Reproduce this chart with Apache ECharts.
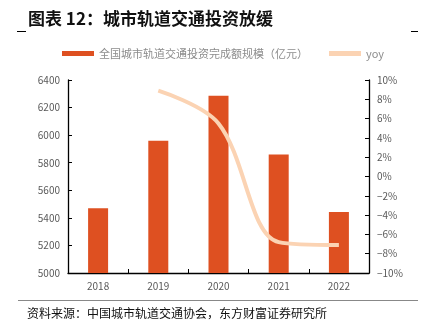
<!DOCTYPE html>
<html><head><meta charset="utf-8">
<script src="https://cdn.jsdelivr.net/npm/echarts@6/dist/echarts.min.js"></script>
<style>html,body{margin:0;padding:0;background:#fff}#c{width:422px;height:334px}</style>
</head><body><div id="c"></div>
<script>
const categories = ['2018','2019','2020','2021','2022'];
const investment = [5470, 5959, 6286, 5859, 5443];
const yoy = [null, 8.9, 5.5, -6.8, -7.1];
const leftTicks = [5000, 6400, 200];
const rightTicks = [-10, 10, 2];
const titleText = '图表 12：城市轨道交通投资放缓';
const sourceText = '资料来源：中国城市轨道交通协会，东方财富证券研究所';
const barName = '全国城市轨道交通投资完成额规模（亿元）';
const lineName = 'yoy';

const chart = echarts.init(document.getElementById('c'), null, {renderer:'canvas'});
const F = '"Noto Sans CJK SC", "Noto Sans", sans-serif';
chart.setOption({
  animation:false,
  textStyle:{fontFamily:F},
  title:{text:titleText,left:23,top:5,textStyle:{fontSize:17,fontWeight:'bold',color:'#111',fontFamily:F}},
  legend:{top:43,left:57,itemGap:21,itemWidth:32,itemHeight:5,
    textStyle:{fontSize:11,color:'#8c8c8c',fontFamily:F},
    data:[{name:barName,icon:'rect'},{name:lineName,icon:'rect',itemStyle:{color:'#FBD3B3'}}]},
  grid:{left:68,right:53,top:80,bottom:61,containLabel:false},
  xAxis:{type:'category',data:categories,
    axisLine:{onZero:false,lineStyle:{color:'#000',width:1.3}},
    axisTick:{show:true,inside:true,length:4,alignWithLabel:false,lineStyle:{color:'#000'}},
    axisLabel:{color:'#595959',fontSize:10,margin:8}},
  yAxis:[
    {type:'value',min:leftTicks[0],max:leftTicks[1],interval:leftTicks[2],
     axisLine:{show:true,lineStyle:{color:'#000',width:1.3}},
     axisTick:{show:true,inside:true,length:4,lineStyle:{color:'#000'}},
     splitLine:{show:false},
     axisLabel:{color:'#595959',fontSize:10,margin:8,formatter:v=>String(v)}},
    {type:'value',min:rightTicks[0],max:rightTicks[1],interval:rightTicks[2],
     axisLine:{show:true,lineStyle:{color:'#000',width:1.3}},
     axisTick:{show:true,inside:true,length:4,lineStyle:{color:'#000'}},
     splitLine:{show:false},
     axisLabel:{color:'#595959',fontSize:10,margin:8,formatter:v=>(v<0?'\u2212'+(-v):v)+'%'}}
  ],
  series:[
    {name:barName,type:'bar',data:investment,barWidth:20,itemStyle:{color:'#DE5021'}},
    {name:lineName,type:'line',yAxisIndex:1,data:yoy,smooth:0.35,showSymbol:false,
     lineStyle:{color:'#FBD3B3',width:4},itemStyle:{color:'#FBD3B3'}}
  ],
  graphic:[
    {type:'line',shape:{x1:17,y1:31.5,x2:26,y2:31.5},style:{stroke:'#000',lineWidth:1}},
    {type:'line',shape:{x1:411,y1:31.5,x2:418,y2:31.5},style:{stroke:'#000',lineWidth:1}},
    {type:'line',shape:{x1:18,y1:300.5,x2:418,y2:300.5},style:{stroke:'#888',lineWidth:1}},
    {type:'text',left:27,top:307,style:{text:sourceText,fontSize:12,fill:'#111',fontFamily:F}}
  ]
});
</script></body></html>
